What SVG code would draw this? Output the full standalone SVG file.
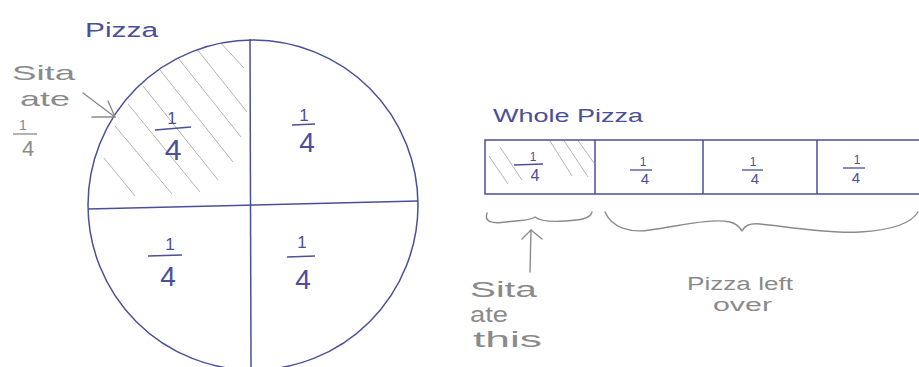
<svg xmlns="http://www.w3.org/2000/svg" width="919" height="367" viewBox="0 0 919 367">
  <style>
    .ink { stroke: #4a4f98; stroke-width: 1.5; fill: none; }
    .hatch { stroke: #b4b4b4; stroke-width: 1; fill: none; }
    .pencil { stroke: #8a8a8a; stroke-width: 1.4; fill: none; stroke-linecap: round; stroke-linejoin: round; }
    .bt { font-family: "Liberation Sans", Arial, sans-serif; fill: #4a4f98; }
    .gt { font-family: "Liberation Sans", Arial, sans-serif; fill: #8a8a8a; }
    .fb { stroke: #4a4f98; stroke-width: 1.3; }
    .fg { stroke: #8a8a8a; stroke-width: 1.3; }
  </style>
  <defs>
    <clipPath id="qclip">
      <path d="M250,205 L88,208 A165,165 0 0 1 250,40 Z"/>
    </clipPath>
    <clipPath id="cellclip">
      <rect x="486" y="141" width="108" height="52"/>
    </clipPath>
  </defs>
  <rect width="919" height="367" fill="#ffffff"/>

  <!-- Round pizza -->
  <g id="pizza-circle">
    <text class="bt" x="85" y="37" font-size="20" textLength="73" lengthAdjust="spacingAndGlyphs">Pizza</text>
    <g clip-path="url(#qclip)" class="hatch">
      <line x1="218" y1="40" x2="244" y2="68"/>
      <line x1="196" y1="48" x2="247" y2="112"/>
      <line x1="178" y1="58" x2="241" y2="137"/>
      <line x1="160" y1="70" x2="233" y2="162"/>
      <line x1="143" y1="86" x2="218" y2="180"/>
      <line x1="128" y1="104" x2="200" y2="192"/>
      <line x1="115" y1="126" x2="172" y2="194"/>
      <line x1="104" y1="158" x2="135" y2="196"/>
    </g>
    <circle class="ink" cx="253" cy="205" r="165"/>
    <line class="ink" x1="250" y1="39" x2="251" y2="367"/>
    <line class="ink" x1="88" y1="209" x2="418" y2="201"/>
    <!-- quarters -->
    <text class="bt" x="172" y="124" font-size="17" text-anchor="middle">1</text>
    <line class="fb" x1="155" y1="130" x2="191" y2="127"/>
    <text class="bt" x="173" y="160" font-size="30" text-anchor="middle">4</text>
    <text class="bt" x="304" y="121" font-size="17" text-anchor="middle">1</text>
    <line class="fb" x1="292" y1="125" x2="315" y2="124"/>
    <text class="bt" x="307" y="152" font-size="28" text-anchor="middle">4</text>
    <text class="bt" x="170" y="250" font-size="17" text-anchor="middle">1</text>
    <line class="fb" x1="148" y1="256" x2="182" y2="255"/>
    <text class="bt" x="168" y="286" font-size="28" text-anchor="middle">4</text>
    <text class="bt" x="302" y="248" font-size="17" text-anchor="middle">1</text>
    <line class="fb" x1="287" y1="257" x2="315" y2="256"/>
    <text class="bt" x="303" y="289" font-size="28" text-anchor="middle">4</text>
  </g>

  <!-- Label: Sita ate 1/4 -->
  <g id="label-circle">
    <text class="gt" x="12" y="80" font-size="21" textLength="63" lengthAdjust="spacingAndGlyphs">Sita</text>
    <text class="gt" x="20" y="106" font-size="21" textLength="50" lengthAdjust="spacingAndGlyphs">ate</text>
    <text class="gt" x="23" y="130" font-size="14" text-anchor="middle">1</text>
    <line class="fg" x1="13" y1="134" x2="37" y2="134"/>
    <text class="gt" x="28" y="156" font-size="22" text-anchor="middle">4</text>
  </g>

  <!-- Bar model -->
  <g id="pizza-bar">
    <text class="bt" x="493" y="122" font-size="19" textLength="150" lengthAdjust="spacingAndGlyphs">Whole Pizza</text>
    <g clip-path="url(#cellclip)" class="hatch">
      <line x1="489" y1="156" x2="508" y2="184"/>
      <line x1="500" y1="147" x2="522" y2="180"/>
      <line x1="550" y1="141" x2="572" y2="176"/>
      <line x1="563" y1="139" x2="588" y2="177"/>
      <line x1="577" y1="139" x2="594" y2="163"/>
    </g>
    <rect class="ink" x="485" y="140" width="440" height="54"/>
    <line class="ink" x1="595" y1="140" x2="595" y2="194"/>
    <line class="ink" x1="703" y1="140" x2="703" y2="194"/>
    <line class="ink" x1="817" y1="140" x2="817" y2="194"/>
    <text class="bt" x="533" y="161" font-size="12" text-anchor="middle">1</text>
    <line class="fb" x1="514" y1="165" x2="543" y2="164"/>
    <text class="bt" x="535" y="181" font-size="16" text-anchor="middle">4</text>
    <text class="bt" x="643" y="166" font-size="12" text-anchor="middle">1</text>
    <line class="fb" x1="630" y1="170" x2="652" y2="170"/>
    <text class="bt" x="645" y="184" font-size="15" text-anchor="middle">4</text>
    <text class="bt" x="753" y="166" font-size="12" text-anchor="middle">1</text>
    <line class="fb" x1="742" y1="170" x2="763" y2="170"/>
    <text class="bt" x="755" y="184" font-size="15" text-anchor="middle">4</text>
    <text class="bt" x="857" y="164" font-size="12" text-anchor="middle">1</text>
    <line class="fb" x1="843" y1="168" x2="865" y2="168"/>
    <text class="bt" x="856" y="183" font-size="15" text-anchor="middle">4</text>
  </g>

  <!-- Labels under bar -->
  <g id="label-ate">
    <text class="gt" x="470" y="297" font-size="22" textLength="67" lengthAdjust="spacingAndGlyphs">Sita</text>
    <text class="gt" x="470" y="322" font-size="22" textLength="38" lengthAdjust="spacingAndGlyphs">ate</text>
    <text class="gt" x="473" y="347" font-size="22" textLength="69" lengthAdjust="spacingAndGlyphs">this</text>
  </g>
  <g id="label-left">
    <text class="gt" x="687" y="290" font-size="18" textLength="106" lengthAdjust="spacingAndGlyphs">Pizza left</text>
    <text class="gt" x="713" y="311" font-size="18" textLength="59" lengthAdjust="spacingAndGlyphs">over</text>
  </g>

  <!-- Connectors -->
  <g id="connectors" class="pencil">
    <!-- arrow to circle -->
    <path d="M83,93 L115,117"/>
    <path d="M108,101 L115,117 L92,117"/>
    <!-- small brace -->
    <path d="M487,213 C484,222 492,224 506,222 C520,220 530,221 535,217 C540,221 550,222 565,221 C580,220 590,219 592,212"/>
    <!-- big brace -->
    <path d="M605,212 C612,228 630,233 650,230 C680,226 710,218 730,222 C738,224 740,228 742,231 C745,226 748,223 760,224 C790,227 830,234 860,232 C895,230 912,222 918,212"/>
    <!-- up arrow -->
    <path d="M530,272 L531,230"/>
    <path d="M522,239 L531,230 L542,239"/>
  </g>
</svg>
